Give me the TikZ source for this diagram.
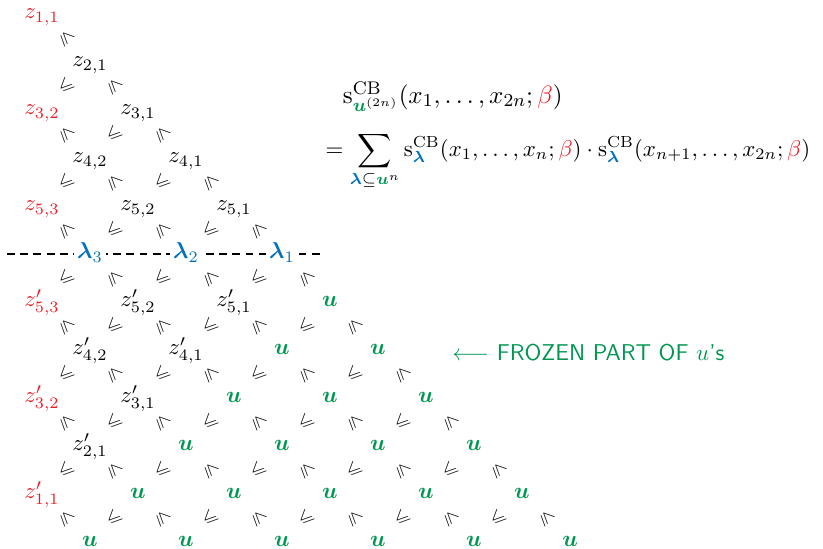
\documentclass[tikz,border=0pt]{standalone}
\usepackage{amsmath,amssymb}
\usepackage{tikz}
\usetikzlibrary{positioning,calc}
\definecolor{zred}{RGB}{237,28,36}
\definecolor{ugreen}{RGB}{0,150,80}
\definecolor{lblue}{RGB}{0,114,189}
\tikzset{
  entry/.style={anchor=mid,inner sep=1pt},
  fixed/.style={entry,text=zred},
  frozen/.style={entry,text=ugreen},
  part/.style={entry,fill=white,inner sep=1.2pt,text=lblue},
  rel/.style={inner sep=0pt,font=\footnotesize,text=black,rotate=#1},
  rel/.default=45,
  cut/.style={draw=black,line width=0.6pt,dash pattern=on 3.4pt off 2.4pt},
  formula/.style={anchor=base west,inner sep=0pt,font=\fontsize{#1}{13}\selectfont},
  formula/.default=11,
}
\newcommand{\uvec}{{\color{ugreen}\boldsymbol{u}}}
\newcommand{\lamb}{{\color{lblue}\boldsymbol{\lambda}}}
\newcommand{\betr}{{\color{zred}\beta}}
\newcommand{\sCB}{\mathrm{s}^{\mathrm{CB}}}

\begin{document}
\begin{tikzpicture}[x=21pt,y=-21pt]
        \useasboundingbox (-0.875,-0.29) rectangle (16.27,11.146);
        % upper half
        \node[fixed] (z11) at (0,0) {$z_{1,1}$};
        \node[entry] (z21) at (1,1) {$z_{2,1}$};
        \node[fixed] (z32) at (0,2) {$z_{3,2}$};
        \node[entry] (z31) at (2,2) {$z_{3,1}$};
        \node[entry] (z42) at (1,3) {$z_{4,2}$};
        \node[entry] (z41) at (3,3) {$z_{4,1}$};
        \node[fixed] (z53) at (0,4) {$z_{5,3}$};
        \node[entry] (z52) at (2,4) {$z_{5,2}$};
        \node[entry] (z51) at (4,4) {$z_{5,1}$};
        % cut through the middle
        \coordinate (cut-w) at (-0.73,5);
        \coordinate (cut-e) at (5.85,5);
        \draw[cut] (cut-w) -- (cut-e);
        \node[part] (lam3) at (1,5) {$\boldsymbol{\lambda}_3$};
        \node[part] (lam2) at (3,5) {$\boldsymbol{\lambda}_2$};
        \node[part] (lam1) at (5,5) {$\boldsymbol{\lambda}_1$};
        % lower half
        \node[fixed] (w53) at (0,6) {$z'_{5,3}$};
        \node[entry] (w52) at (2,6) {$z'_{5,2}$};
        \node[entry] (w51) at (4,6) {$z'_{5,1}$};
        \node[entry] (w42) at (1,7) {$z'_{4,2}$};
        \node[entry] (w41) at (3,7) {$z'_{4,1}$};
        \node[fixed] (w32) at (0,8) {$z'_{3,2}$};
        \node[entry] (w31) at (2,8) {$z'_{3,1}$};
        \node[entry] (w21) at (1,9) {$z'_{2,1}$};
        \node[fixed] (w11) at (0,10) {$z'_{1,1}$};
        % frozen u's
        \foreach \r in {6,...,11}
          \foreach \c in {1,...,11}{
            \ifnum\c>\numexpr10-\r\relax \ifnum\c<\numexpr\r+1\relax
              \ifodd\numexpr\r+\c\relax\else
                \node[frozen] (u-\r-\c) at (\c,\r) {$\boldsymbol{u}$};
              \fi
            \fi\fi
          }
        % inequalities between neighbours
        \foreach \r in {0,...,10}
          \foreach \k in {0,...,\r}{
            \ifodd\numexpr\r+\k\relax
              \node[rel=45] (rel-\r-\k) at (\k+0.5,\r+0.5) {$\leqslant$};
            \else
              \node[rel=-45] (rel-\r-\k) at (\k+0.5,\r+0.5) {$\leqslant$};
            \fi
          }
        % identity
        \node[formula] (lhs) at (6.26,1.86)
          {$\sCB_{\uvec^{(2n)}}(x_1,\ldots,x_{2n};\betr)$};
        \node[formula=10.4] (rhs) at (5.9,2.97)
          {$\displaystyle=\sum_{\lamb\subseteq\uvec^n}\sCB_{\lamb}(x_1,\ldots,x_n;\betr)\cdot\sCB_{\lamb}(x_{n+1},\ldots,x_{2n};\betr)$};
        \node[anchor=base west,inner sep=0pt,text=ugreen,font=\sffamily] (frz) at (8.54,7.22)
          {$\longleftarrow$ FROZEN PART OF $u$'s};
      \end{tikzpicture}
\end{document}
